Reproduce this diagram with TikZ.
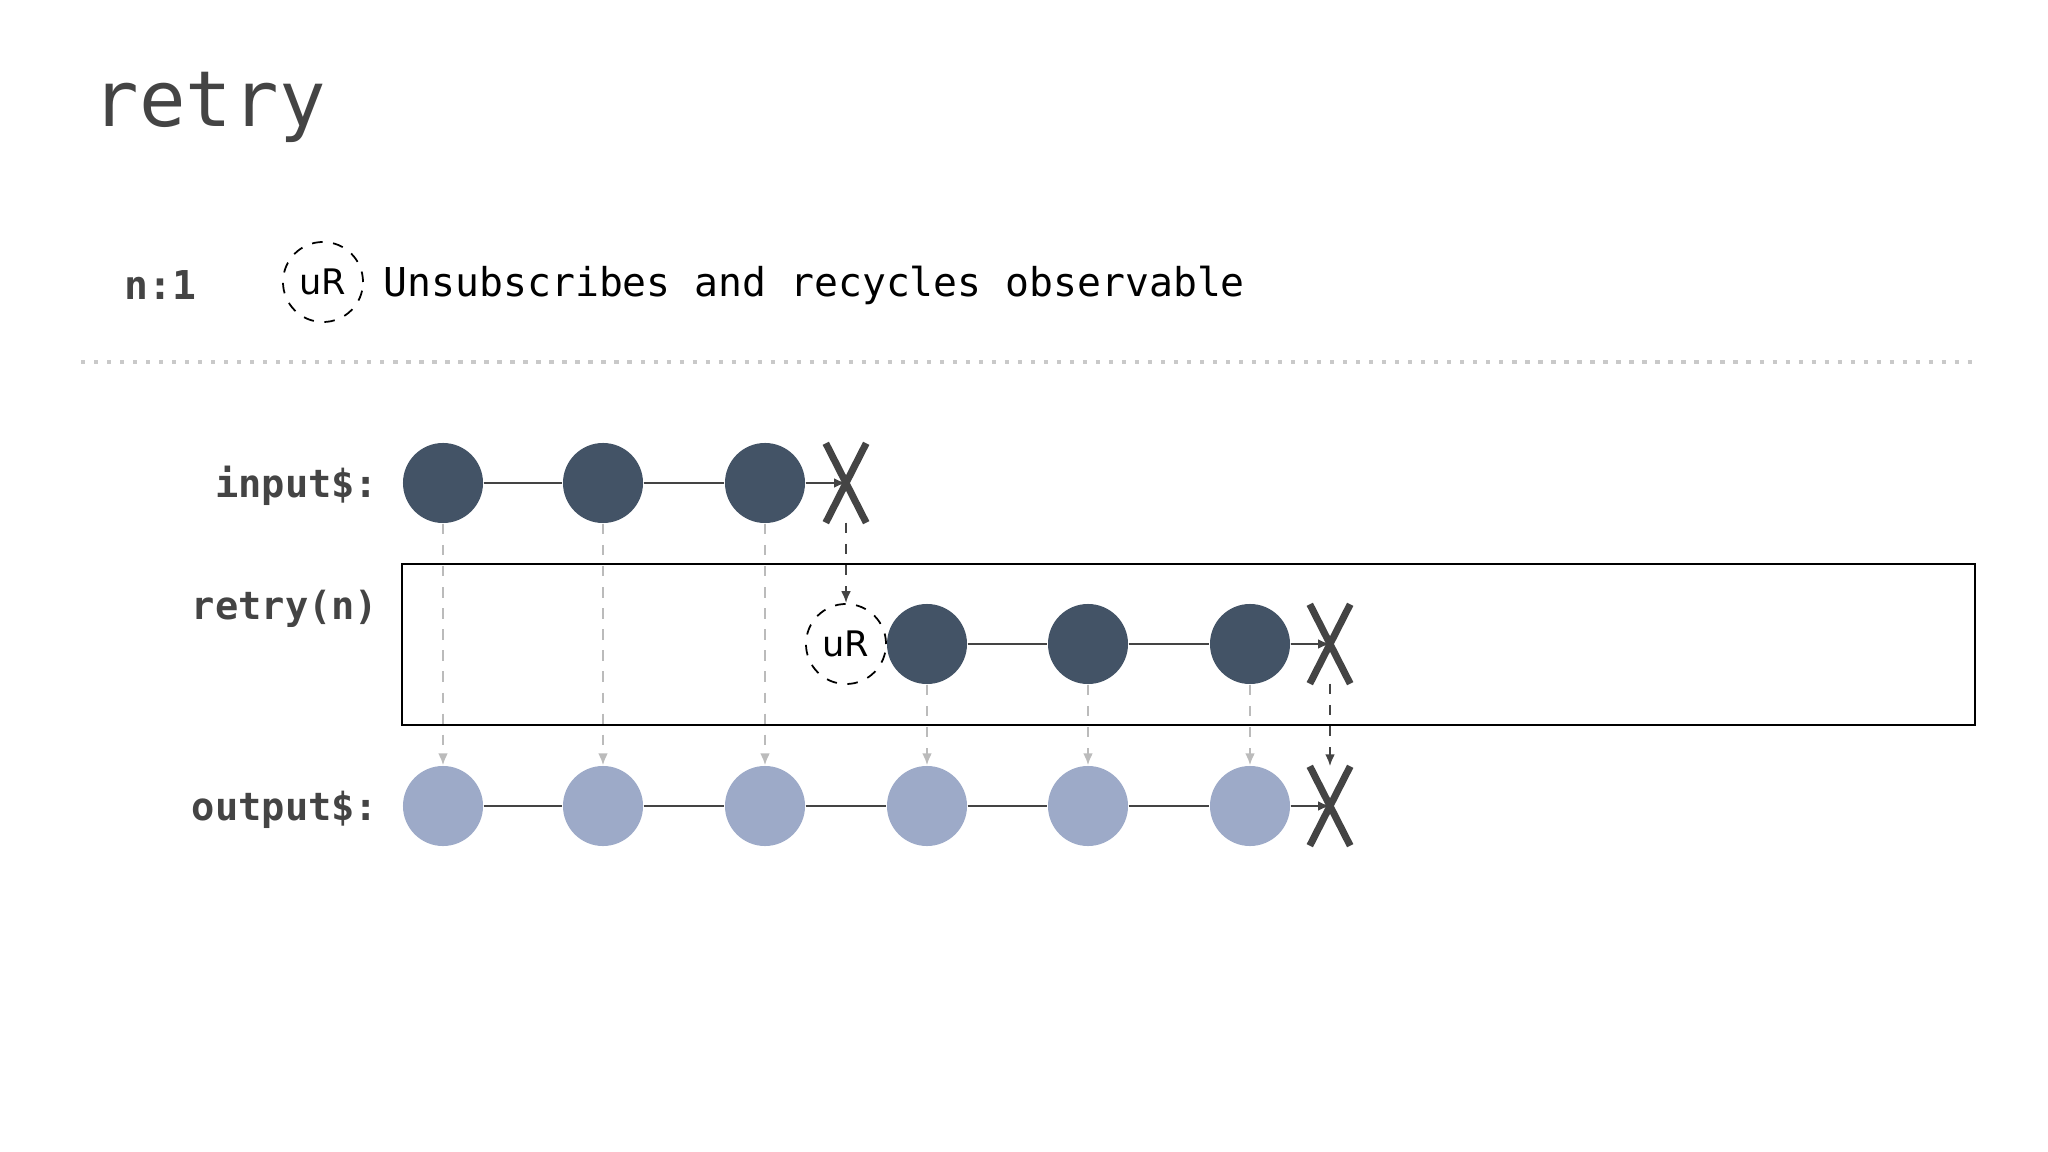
\documentclass[tikz,border=0pt]{standalone}
\usepackage{fontspec}
\setmainfont{DejaVu Sans}
\setmonofont{DejaVu Sans Mono}
\usepackage{xcolor}
\usepackage{tikz}
\usetikzlibrary{arrows.meta}

\definecolor{ink}{HTML}{444444}
\definecolor{slate}{HTML}{435366}
\definecolor{haze}{HTML}{9DAAC8}
\definecolor{guide}{HTML}{BBBBBB}

\tikzset{
	marble/.style={circle, fill=slate, minimum size=0.8cm, inner sep=0pt},
	outmarble/.style={circle, fill=haze, minimum size=0.8cm, inner sep=0pt},
	recycle/.style={circle, draw, dashed, line width=0.5pt, minimum size=0.8cm, inner sep=0pt,
		font=\fontsize{10}{10}\selectfont},
	stopmark/.style={minimum width=0.39cm, minimum height=0.78cm, inner sep=0pt},
	stopline/.style={ink, line width=2pt},
	timeline/.style={ink, line width=0.7pt},
	tip/.style={-{Latex[length=3.4pt,width=2.8pt]}},
	drop/.style={guide, dashed, line width=0.6pt, tip},
	restart/.style={ink, dashed, line width=0.6pt, tip},
	streamlabel/.style={anchor=east, inner sep=0pt, text=ink, font=\ttfamily\bfseries\fontsize{11}{11}\selectfont},
}

\begin{document}
\begin{tikzpicture}[x=0.01cm, y=-0.01cm]
		\useasboundingbox (0,0) rectangle (2048,1152);
		% title
		\node[anchor=base west, inner sep=0pt, text=ink, font=\ttfamily\fontsize{22}{22}\selectfont] (title) at (92,127) {retry};
		% legend
		\node[anchor=west, inner sep=0pt, text=ink, font=\ttfamily\bfseries\fontsize{11.3}{11.3}\selectfont] (arity) at (124,285) {n:1};
		\node[recycle] (keyuR) at (323,282) {uR};
		\node[anchor=west, inner sep=0pt, font=\ttfamily\fontsize{11.3}{11.3}\selectfont] (keytext) at (383,285) {Unsubscribes and recycles observable};
		\draw[guide!80, line width=1.2pt, dash pattern=on 1.2pt off 2.5pt] (81,362) -- (1975,362);

		% operator box
		\draw[line width=0.8pt] (402,564) rectangle (1975,725);

		% labels
		\node[streamlabel] (inlabel) at (379,486) {input\$:};
		\node[streamlabel] (oplabel) at (379,609) {retry(n)};
		\node[streamlabel] (outlabel) at (379,810) {output\$:};

		% input stream
		\foreach \x [count=\i] in {443,603,765}
			\node[marble] (in\i) at (\x,483) {};
		\node[stopmark] (inX) at (846,483) {};
		\draw[timeline] (in1) -- (in2) -- (in3);
		\draw[timeline, tip] (in3) -- (inX.center);
		\draw[stopline] (inX.south west) -- (inX.north east) (inX.north west) -- (inX.south east);

		% resubscribed stream
		\node[recycle] (uR) at (846,644) {uR};
		\foreach \x [count=\i] in {927,1088,1250}
			\node[marble] (re\i) at (\x,644) {};
		\node[stopmark] (reX) at (1330,644) {};
		\draw[timeline] (re1) -- (re2) -- (re3);
		\draw[timeline, tip] (re3) -- (reX.center);
		\draw[stopline] (reX.south west) -- (reX.north east) (reX.north west) -- (reX.south east);

		% output stream
		\foreach \x [count=\i] in {443,603,765,927,1088,1250}
			\node[outmarble] (out\i) at (\x,806) {};
		\node[stopmark] (outX) at (1330,806) {};
		\draw[timeline] (out1) -- (out2) -- (out3) -- (out4) -- (out5) -- (out6);
		\draw[timeline, tip] (out6) -- (outX.center);
		\draw[stopline] (outX.south west) -- (outX.north east) (outX.north west) -- (outX.south east);

		% emissions
		\foreach \i in {1,2,3}
			\draw[drop] (in\i) -- (out\i);
		\foreach \i/\j in {1/4,2/5,3/6}
			\draw[drop] (re\i) -- (out\j);
		\draw[restart] (inX) -- (uR);
		\draw[restart] (reX) -- (outX);
	\end{tikzpicture}
\end{document}
